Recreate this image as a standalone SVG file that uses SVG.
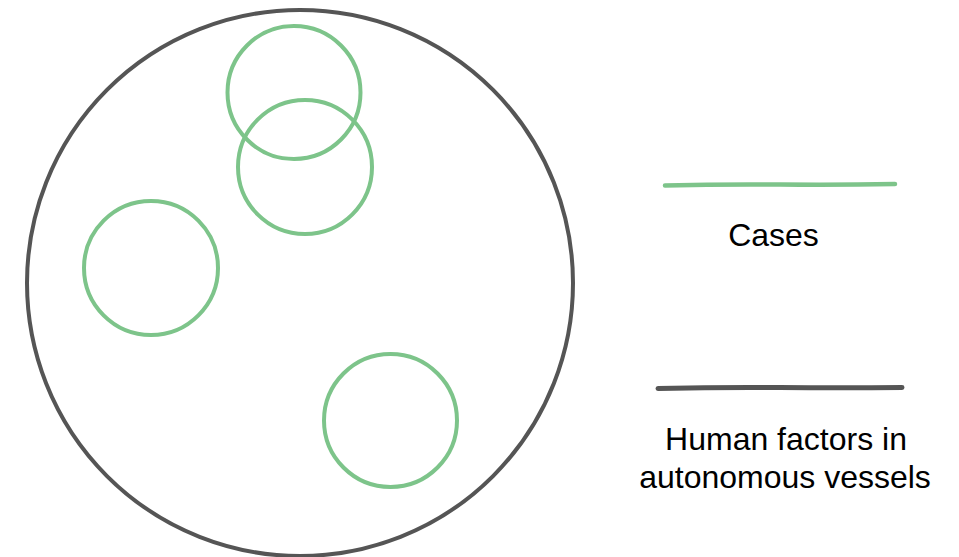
<svg xmlns="http://www.w3.org/2000/svg" width="959" height="557" viewBox="0 0 959 557">
  <style>
    .outer { fill: none; stroke: #555555; stroke-width: 4; stroke-linecap: round; }
    .case { fill: none; stroke: #7dc48a; stroke-width: 4; }
    .key-green { stroke: #7dc48a; stroke-width: 4.5; stroke-linecap: round; }
    .key-dark { stroke: #555555; stroke-width: 5; stroke-linecap: round; }
    .label { font-family: "Liberation Sans", Arial, sans-serif; font-size: 32px; fill: #000000; text-anchor: middle; }
  </style>
  <rect width="959" height="557" fill="#ffffff"/>

  <!-- outer domain circle -->
  <g id="domain">
    <circle class="outer" cx="300" cy="283" r="273"/>
  </g>

  <!-- case circles -->
  <g id="case-1"><circle class="case" cx="294" cy="92.5" r="66.5"/></g>
  <g id="case-2"><circle class="case" cx="305" cy="167" r="67"/></g>
  <g id="case-3"><circle class="case" cx="151" cy="268" r="67"/></g>
  <g id="case-4"><circle class="case" cx="390.5" cy="420.5" r="66.5"/></g>

  <!-- legend -->
  <g id="legend-cases">
    <path class="key-green" d="M665 185.5 Q720 184 780 184.5 T895 184"/>
    <text class="label" x="773.5" y="246">Cases</text>
  </g>
  <g id="legend-domain">
    <path class="key-dark" d="M658 388.5 Q720 387 780 387.5 T902 387.5"/>
    <text class="label" x="786" y="450">Human factors in</text>
    <text class="label" x="785" y="488">autonomous vessels</text>
  </g>
</svg>
